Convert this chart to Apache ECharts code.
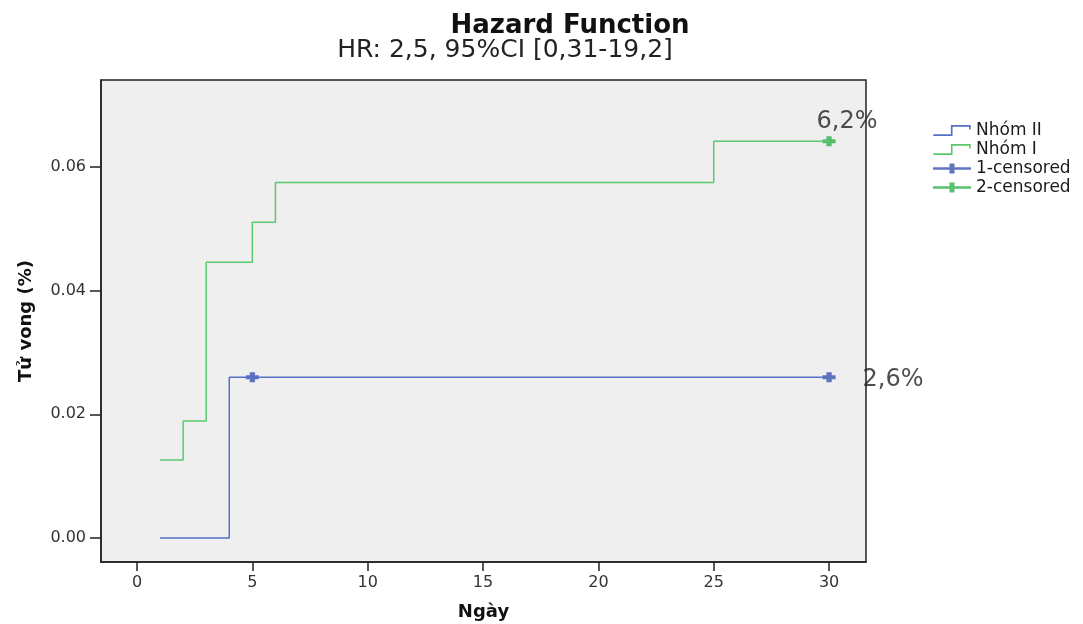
<!DOCTYPE html>
<html>
<head>
<meta charset="utf-8">
<script src="https://cdn.jsdelivr.net/npm/echarts@6/dist/echarts.min.js"></script>
<style>
  html,body{margin:0;padding:0;background:#fff;}
  #main{width:1083px;height:624px;}
</style>
</head>
<body>
<div id="main"></div>
<script>
  // du lieu doc tu hinh
  let xTicks=[0,5,10,15,20,25,30];
  let yTicks=[0,0.02,0.04,0.06];
  // Nhom II (xanh duong)
  let nhom2=[[1,0],[4,0.026],[30,0.026]];
  // Nhom I (xanh la)
  let nhom1=[[1,0.0126],[2,0.0189],[3,0.0446],[5,0.0511],[6,0.0575],[25,0.0642],[30,0.0642]];
  // diem censored
  let cens1=[[5,0.026],[30,0.026]];
  let cens2=[[30,0.0642]];
  let nhan=['6,2%','2,6%'];

  let font='DejaVu Sans';
  let xanhDuong='#5570c6', xanhDuongDam='#3a53b2';
  let xanhLa='#5cc86e', xanhLaDam='#2db249';
  let plus='path://M3,0L7,0L7,3L10,3L10,7L7,7L7,10L3,10L3,7L0,7L0,3L3,3Z';
  let bac='path://M0,8.5L16,8.5L16,0L34,0L34,4L32.5,4L32.5,1.5L17.5,1.5L17.5,10L0,10Z';
  let gach='path://M0,3.8L16.5,3.8L16.5,0L21.5,0L21.5,3.8L38,3.8L38,6.2L21.5,6.2L21.5,10L16.5,10L16.5,6.2L0,6.2Z';

  // gan nhan vao diem cuoi
  let c1=cens1.map(function(v,i){
    if(i==cens1.length-1){
      return {value:v,label:{show:true,formatter:nhan[1],position:'right',offset:[22,3]}};
    }
    return {value:v};
  });
  let c2=cens2.map(function(v){
    return {value:v,label:{show:true,formatter:nhan[0],position:'top',offset:[18,3]}};
  });

  var myChart=echarts.init(document.getElementById('main'));
  myChart.setOption({
    animation:false,
    title:[
      {text:'Hazard Function',left:565,top:8,textAlign:'center',
       textStyle:{fontFamily:font,fontSize:26,fontWeight:'bold',color:'#111'}},
      {text:'HR: 2,5, 95%CI [0,31-19,2]',left:500,top:33,textAlign:'center',
       textStyle:{fontFamily:font,fontSize:25,fontWeight:'normal',color:'#222'}}
    ],
    legend:{
      orient:'vertical',left:928,top:117,itemGap:2,itemWidth:38,itemHeight:11,
      textStyle:{fontFamily:font,fontSize:17,color:'#1a1a1a',lineHeight:16},
      data:[
        {name:'Nhóm II',icon:bac,itemStyle:{borderWidth:0}},
        {name:'Nhóm I',icon:bac,itemStyle:{borderWidth:0}},
        {name:'1-censored',icon:gach,itemStyle:{borderWidth:0}},
        {name:'2-censored',icon:gach,itemStyle:{borderWidth:0}}
      ]
    },
    grid:{left:101,top:80,right:217,bottom:62,show:true,backgroundColor:'#efefef',
          borderColor:'#222',borderWidth:1.5,containLabel:false,outerBoundsMode:'none'},
    xAxis:{
      type:'value',min:-1.56,max:31.6,
      name:'Ngày',nameLocation:'middle',nameGap:41,
      nameTextStyle:{fontFamily:font,fontSize:18,fontWeight:'bold',color:'#111'},
      axisLine:{show:true,onZero:false,lineStyle:{color:'#222',width:1.5}},
      axisTick:{show:true,length:9,customValues:xTicks,lineStyle:{color:'#222',width:1.5}},
      axisLabel:{customValues:xTicks,margin:13,fontFamily:font,fontSize:16,color:'#333'},
      splitLine:{show:false}
    },
    yAxis:{
      type:'value',min:-0.0039,max:0.0741,
      name:'Tử vong (%)',nameLocation:'middle',nameGap:66,nameRotate:90,
      nameTextStyle:{fontFamily:font,fontSize:18,fontWeight:'bold',color:'#111'},
      axisLine:{show:true,onZero:false,lineStyle:{color:'#222',width:1.5}},
      axisTick:{show:true,length:11,customValues:yTicks,lineStyle:{color:'#222',width:1.5}},
      axisLabel:{customValues:yTicks,margin:15,fontFamily:font,fontSize:16,color:'#333',
        formatter:function(v){return v.toFixed(2);}},
      splitLine:{show:false}
    },
    series:[
      {name:'Nhóm II',type:'line',step:'end',data:nhom2,showSymbol:false,
       color:xanhDuong,lineStyle:{color:xanhDuong,width:1.5}},
      {name:'Nhóm I',type:'line',step:'end',data:nhom1,showSymbol:false,
       color:xanhLa,lineStyle:{color:xanhLa,width:1.5}},
      {name:'1-censored',type:'scatter',data:c1,symbol:plus,symbolSize:[13,10],
       color:xanhDuongDam,itemStyle:{color:xanhDuongDam},
       label:{fontFamily:font,fontSize:24,color:'#222'}},
      {name:'2-censored',type:'scatter',data:c2,symbol:plus,symbolSize:[13,10],
       color:xanhLaDam,itemStyle:{color:xanhLaDam},
       label:{fontFamily:font,fontSize:24,color:'#222'}}
    ]
  });
</script>
</body>
</html>
